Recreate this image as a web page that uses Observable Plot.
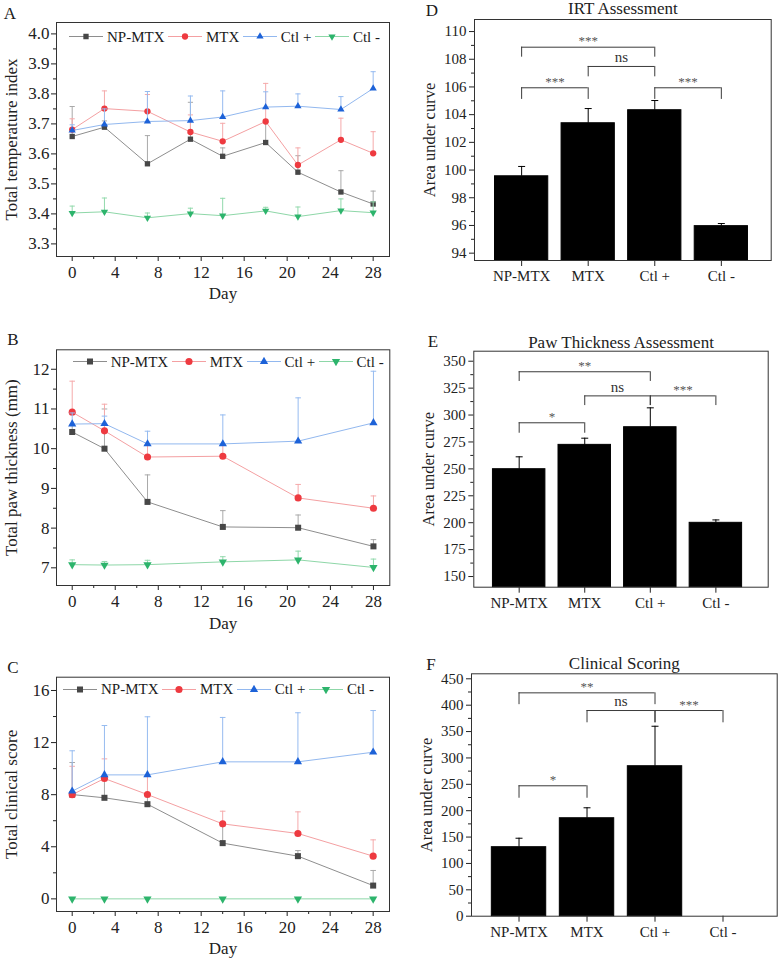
<!DOCTYPE html>
<html>
<head>
<meta charset="utf-8">
<script src="https://cdn.jsdelivr.net/npm/d3@7"></script>
<script src="https://cdn.jsdelivr.net/npm/@observablehq/plot@0.6"></script>
<style>
  html,body{margin:0;padding:0;background:#fff;}
  #fig{position:relative;width:778px;height:959px;overflow:hidden;font-family:"Liberation Serif","Times New Roman",serif;color:#1a1a1a;}
  .panel{position:absolute;}
  .letter{position:absolute;font-size:17px;line-height:1;transform:translate(-50%,-50%);}
  .legend{position:absolute;display:flex;align-items:center;font-size:15px;line-height:1;white-space:nowrap;transform:translateY(-50%);}
  .legend .item{display:flex;align-items:center;margin-right:3.5px;}
  .legend svg{display:block;margin-right:4px;}
</style>
</head>
<body>
<div id="fig"></div>
<script>
// ---------------- data ----------------
const groupNames = ["NP-MTX", "MTX", "Ctl +", "Ctl -"];
const dayTicks = [0, 4, 8, 12, 16, 20, 24, 28];
const dayMinorTicks = [2, 6, 10, 14, 18, 22, 26];

// A: total temperature index (mean and mean+SD)
const tempDays = [0, 3, 7, 11, 14, 18, 21, 25, 28];
const tempNP      = [3.658, 3.689, 3.567, 3.649, 3.592, 3.638, 3.539, 3.473, 3.433];
const tempNPUp    = [3.758, 3.710, 3.661, 3.772, 3.620, 3.705, 3.594, 3.544, 3.476];
const tempMTX     = [3.681, 3.751, 3.742, 3.673, 3.642, 3.708, 3.563, 3.647, 3.602];
const tempMTXUp   = [3.717, 3.810, 3.798, 3.730, 3.702, 3.835, 3.620, 3.719, 3.674];
const tempCtlP    = [3.678, 3.698, 3.708, 3.711, 3.723, 3.756, 3.759, 3.748, 3.818];
const tempCtlPUp  = [3.697, 3.750, 3.808, 3.793, 3.810, 3.807, 3.800, 3.791, 3.874];
const tempCtlN    = [3.403, 3.407, 3.387, 3.401, 3.394, 3.410, 3.391, 3.411, 3.404];
const tempCtlNUp  = [3.426, 3.453, 3.403, 3.419, 3.452, 3.422, 3.423, 3.450, 3.440];
const tempTicks = [3.3, 3.4, 3.5, 3.6, 3.7, 3.8, 3.9, 4.0];

// B: total paw thickness (mm)
const pawDays = [0, 3, 7, 14, 21, 28];
const pawNP      = [10.42, 10.00, 8.66, 8.03, 8.01, 7.54];
const pawNPUp    = [10.60, 11.00, 9.34, 8.44, 8.33, 7.71];
const pawMTX     = [10.92, 10.45, 9.79, 9.81, 8.76, 8.50];
const pawMTXUp   = [11.70, 11.12, 10.10, 10.10, 9.10, 8.81];
const pawCtlP    = [10.62, 10.63, 10.12, 10.12, 10.19, 10.65];
const pawCtlPUp  = [10.90, 10.82, 10.44, 10.85, 11.28, 11.95];
const pawCtlN    = [7.08, 7.07, 7.08, 7.15, 7.20, 7.01];
const pawCtlNUp  = [7.20, 7.16, 7.19, 7.28, 7.42, 7.22];
const pawTicks = [7, 8, 9, 10, 11, 12];

// C: total clinical score
const scoreDays = [0, 3, 7, 14, 21, 28];
const scoreNP      = [8.01, 7.76, 7.27, 4.28, 3.28, 1.02];
const scoreNPUp    = [10.47, 9.20, 8.00, 5.60, 3.71, 2.18];
const scoreMTX     = [8.00, 9.24, 8.01, 5.76, 5.02, 3.28];
const scoreMTXUp   = [10.18, 10.75, 9.40, 6.73, 6.68, 4.53];
const scoreCtlP    = [8.27, 9.52, 9.52, 10.52, 10.52, 11.26];
const scoreCtlPUp  = [11.37, 13.31, 13.98, 13.93, 14.29, 14.46];
const scoreCtlN    = [0, 0, 0, 0, 0, 0];
const scoreCtlNUp  = [0, 0, 0, 0, 0, 0];
const scoreTicks = [0, 4, 8, 12, 16];

// D: IRT assessment (area under curve)
const irtAUC   = [99.55, 103.38, 104.32, 95.95];
const irtAUCUp = [100.26, 104.44, 105.02, 96.14];
const irtTicks = [94, 96, 98, 100, 102, 104, 106, 108, 110];
const irtFrom  = ["NP-MTX", "MTX", "NP-MTX", "Ctl +"];
const irtTo    = ["Ctl +", "Ctl +", "MTX", "Ctl -"];
const irtLevel = [108.87, 107.48, 105.94, 105.94];
const irtFoot  = [108.15, 106.73, 105.10, 105.10];
const irtSig   = ["***", "ns", "***", "***"];

// E: paw thickness assessment
const pawAUC   = [249.7, 272.3, 288.7, 199.9];
const pawAUCUp = [261.2, 278.5, 306.7, 202.6];
const pawAUCTicks = [150, 175, 200, 225, 250, 275, 300, 325, 350];
const pawFrom  = ["NP-MTX", "MTX", "Ctl +", "NP-MTX"];
const pawTo    = ["Ctl +", "Ctl +", "Ctl -", "MTX"];
const pawLevel = [340.2, 317.8, 317.8, 292.8];
const pawFoot  = [331.2, 308.8, 308.8, 283.1];
const pawSig   = ["**", "ns", "***", "*"];

// F: clinical scoring
const clinAUC   = [130.8, 185.7, 284.3, 0];
const clinAUCUp = [147.8, 205.5, 360.1, 0];
const clinTicks = [0, 50, 100, 150, 200, 250, 300, 350, 400, 450];
const clinFrom  = ["NP-MTX", "MTX", "Ctl +", "NP-MTX"];
const clinTo    = ["Ctl +", "Ctl +", "Ctl -", "MTX"];
const clinLevel = [423.4, 389.9, 389.9, 247.2];
const clinFoot  = [401.0, 366.6, 366.6, 223.6];
const clinSig   = ["**", "ns", "***", "*"];

// ---------------- styles ----------------
const FONT = "'Liberation Serif', 'Times New Roman', serif";
const triDown = {
  draw(ctx, size) {
    const s = Math.sqrt(size * 4 / Math.sqrt(3));
    const h = s * Math.sqrt(3) / 2;
    ctx.moveTo(0, 2 * h / 3);
    ctx.lineTo(s / 2, -h / 3);
    ctx.lineTo(-s / 2, -h / 3);
    ctx.closePath();
  }
};
const capSymbol = {
  draw(ctx, size) {
    const r = Math.sqrt(size / Math.PI);
    ctx.moveTo(-r, 0);
    ctx.lineTo(r, 0);
  }
};
const seriesStyle = [
  {name: "NP-MTX", symbol: "square",   d3sym: d3.symbolSquare,   k: 1.0,  fill: "#474747", line: "#8e8e8e", err: "#a9a9a9"},
  {name: "MTX",    symbol: "circle",   d3sym: d3.symbolCircle,   k: 1.05, fill: "#ee3a40", line: "#f4a0a2", err: "#f5aaab"},
  {name: "Ctl +",  symbol: "triangle", d3sym: d3.symbolTriangle, k: 0.9,  fill: "#1d62d8", line: "#92b8ef", err: "#96bbf0"},
  {name: "Ctl -",  symbol: triDown,    d3sym: triDown,           k: 0.9,  fill: "#2db46c", line: "#8ed7a8", err: "#92d9ac"}
];

const fig = document.getElementById("fig");
function place(node, left, top, w) {
  const div = document.createElement("div");
  div.className = "panel";
  div.style.left = left + "px";
  div.style.top = top + "px";
  div.style.width = w + "px";
  div.appendChild(node);
  fig.appendChild(div);
}
function letter(t, x, y) {
  const d = document.createElement("div");
  d.className = "letter";
  d.textContent = t;
  d.style.left = x + "px";
  d.style.top = y + "px";
  fig.appendChild(d);
}
function legend(x, y, r) {
  const box = document.createElement("div");
  box.className = "legend";
  box.style.left = x + "px";
  box.style.top = y + "px";
  for (const s of seriesStyle) {
    const item = document.createElement("div");
    item.className = "item";
    const svg = d3.create("svg").attr("width", 34).attr("height", 12);
    svg.append("line").attr("x1", 0).attr("x2", 34).attr("y1", 6).attr("y2", 6)
      .attr("stroke", s.line).attr("stroke-width", 1);
    const rr = r * s.k;
    svg.append("path").attr("transform", "translate(17,6)")
      .attr("d", d3.symbol(s.d3sym, rr * rr * Math.PI)())
      .attr("fill", s.fill);
    item.appendChild(svg.node());
    const t = document.createElement("span");
    t.textContent = s.name;
    item.appendChild(t);
    box.appendChild(item);
  }
  fig.appendChild(box);
}

function linePanel(cfg) {
  const {days, means, uppers, yDomain, yTicks, yMinor, yFormat, yLabel, width, height, margin, r, capR, dayDy} = cfg;
  const marks = [];
  means.forEach((m, k) => {
    const s = seriesStyle[k];
    const rows = days.map((d, i) => ({day: d, value: m[i], upper: uppers[k][i]}));
    const e = rows.filter(d => d.upper > d.value);
    const rr = r * s.k;
    marks.push(
      Plot.ruleX(e, {x: "day", y1: "value", y2: "upper", stroke: s.err, strokeWidth: 1}),
      Plot.dot(e, {x: "day", y: "upper", symbol: capSymbol, r: capR, stroke: s.err, fill: "none", strokeWidth: 1}),
      Plot.line(rows, {x: "day", y: "value", stroke: s.line, strokeWidth: 1}),
      Plot.dot(rows, {x: "day", y: "value", symbol: s.symbol, r: rr, fill: s.fill, stroke: "none"})
    );
  });
  marks.push(
    Plot.axisX(dayTicks, {tickSize: 5, tickPadding: 4, fontSize: 17, label: null}),
    Plot.axisX(dayMinorTicks, {tickSize: 3, tickFormat: () => "", label: null}),
    Plot.axisY(yTicks, {tickSize: 5, tickPadding: 2, fontSize: 17, label: null, tickFormat: yFormat}),
    Plot.axisY(yMinor, {tickSize: 3, tickFormat: () => "", label: null}),
    Plot.frame({stroke: "#333"}),
    Plot.text([yLabel], {text: d => d, frameAnchor: "left", dx: -45, rotate: -90, fontSize: 17, textAnchor: "middle", lineAnchor: "middle"}),
    Plot.text(["Day"], {text: d => d, frameAnchor: "bottom", dy: dayDy, fontSize: 17, textAnchor: "middle", lineAnchor: "middle"})
  );
  return Plot.plot({
    width, height,
    marginLeft: margin[0], marginRight: margin[1], marginTop: margin[2], marginBottom: margin[3],
    x: {domain: [-1.46, 29.52], label: null},
    y: {domain: yDomain, label: null},
    style: {fontFamily: FONT, fontSize: "16px", color: "#222", background: "transparent"},
    marks
  });
}

function barPanel(cfg) {
  const {means, uppers, from, to, level, foot, sig, xDomain, yDomain, yTicks, yMinor, yLabel, title, titleDy, width, height, margin} = cfg;
  const pos = g => groupNames.indexOf(g) + 1;
  const rows = groupNames.map((g, i) => ({group: g, pos: i + 1, value: means[i], upper: uppers[i]}));
  const br = from.map((f, i) => ({x1: pos(f), x2: pos(to[i]), level: level[i], foot: foot[i], label: sig[i]}));
  const errRows = rows.filter(d => d.upper > d.value);
  const stars = br.filter(d => d.label !== "ns");
  const ns = br.filter(d => d.label === "ns");
  const marks = [
    Plot.rectY(rows.filter(d => d.value > yDomain[0]), {x1: d => d.pos - 0.4, x2: d => d.pos + 0.4, y1: yDomain[0], y2: "value", fill: "#000", stroke: "#000"}),
    Plot.ruleX(errRows, {x: "pos", y1: "value", y2: "upper", stroke: "#000", strokeWidth: 1}),
    Plot.dot(errRows, {x: "pos", y: "upper", symbol: capSymbol, r: 3.5, stroke: "#000", fill: "none", strokeWidth: 1}),
    Plot.ruleY(br, {y: "level", x1: "x1", x2: "x2", stroke: "#3a3a3a", strokeWidth: 1}),
    Plot.ruleX(br, {x: "x1", y1: "foot", y2: "level", stroke: "#3a3a3a", strokeWidth: 1}),
    Plot.ruleX(br, {x: "x2", y1: "foot", y2: "level", stroke: "#3a3a3a", strokeWidth: 1}),
    Plot.text(stars, {x: d => (d.x1 + d.x2) / 2, y: "level", text: "label", dy: -6, fontSize: 13, fill: "#555"}),
    Plot.text(ns, {x: d => (d.x1 + d.x2) / 2, y: "level", text: "label", dy: -9, fontSize: 15, fill: "#333"}),
    Plot.axisX([1, 2, 3, 4], {tickSize: 6, tickPadding: 4, fontSize: 15, label: null, tickFormat: i => groupNames[i - 1]}),
    Plot.axisY(yTicks, {tickSize: 5, tickPadding: 3, fontSize: 15, label: null}),
    Plot.axisY(yMinor, {tickSize: 3, tickFormat: () => "", label: null}),
    Plot.frame({stroke: "#333"}),
    Plot.text([yLabel], {text: d => d, frameAnchor: "left", dx: -45, rotate: -90, fontSize: 16.5, textAnchor: "middle", lineAnchor: "middle"}),
    Plot.text([title], {text: d => d, frameAnchor: "top", dy: titleDy, fontSize: 17, textAnchor: "middle", lineAnchor: "middle"})
  ];
  return Plot.plot({
    width, height,
    marginLeft: margin[0], marginRight: margin[1], marginTop: margin[2], marginBottom: margin[3],
    x: {domain: xDomain, label: null},
    y: {domain: yDomain, label: null},
    style: {fontFamily: FONT, fontSize: "15px", color: "#222", background: "transparent"},
    marks
  });
}

const halfSteps = (ticks, lo, hi) => {
  const step = ticks[1] - ticks[0];
  const out = [];
  for (let v = ticks[0] - step / 2; v <= hi; v += step) if (v >= lo) out.push(+v.toFixed(6));
  return out;
};

// ---------- A ----------
place(linePanel({
  days: tempDays,
  means: [tempNP, tempMTX, tempCtlP, tempCtlN],
  uppers: [tempNPUp, tempMTXUp, tempCtlPUp, tempCtlNUp],
  yDomain: [3.258, 4.038], yTicks: tempTicks, yMinor: halfSteps(tempTicks, 3.258, 4.038),
  yFormat: d3.format(".1f"), yLabel: "Total temperature index",
  width: 400, height: 305, margin: [56, 11, 22, 49], r: 3.0, capR: 2.6, dayDy: 37
}), 0, 0, 400);

// ---------- B ----------
place(linePanel({
  days: pawDays,
  means: [pawNP, pawMTX, pawCtlP, pawCtlN],
  uppers: [pawNPUp, pawMTXUp, pawCtlPUp, pawCtlNUp],
  yDomain: [6.555, 12.49], yTicks: pawTicks, yMinor: halfSteps(pawTicks, 6.555, 12.49),
  yFormat: d3.format("d"), yLabel: "Total paw thickness (mm)",
  width: 400, height: 332, margin: [56, 10.7, 39.3, 57], r: 3.4, capR: 2.8, dayDy: 38
}), 0, 310, 400);

// ---------- C ----------
place(linePanel({
  days: scoreDays,
  means: [scoreNP, scoreMTX, scoreCtlP, scoreCtlN],
  uppers: [scoreNPUp, scoreMTXUp, scoreCtlPUp, scoreCtlNUp],
  yDomain: [-0.97, 17.02], yTicks: scoreTicks, yMinor: halfSteps(scoreTicks, -0.97, 17.02),
  yFormat: d3.format("d"), yLabel: "Total clinical score",
  width: 400, height: 329, margin: [56, 11, 46.7, 48], r: 3.4, capR: 2.8, dayDy: 37
}), 0, 630, 400);

// ---------- D ----------
place(barPanel({
  means: irtAUC, uppers: irtAUCUp, from: irtFrom, to: irtTo, level: irtLevel, foot: irtFoot, sig: irtSig,
  xDomain: [0.292, 4.749], yDomain: [93.47, 110.87], yTicks: irtTicks, yMinor: halfSteps(irtTicks, 93.47, 110.87),
  yLabel: "Area under curve", title: "IRT Assessment", titleDy: -11,
  width: 378, height: 305, margin: [74, 7.3, 19, 45]
}), 400, 0, 378);

// ---------- E ----------
place(barPanel({
  means: pawAUC, uppers: pawAUCUp, from: pawFrom, to: pawTo, level: pawLevel, foot: pawFoot, sig: pawSig,
  xDomain: [0.308, 4.798], yDomain: [140.1, 359.3], yTicks: pawAUCTicks, yMinor: halfSteps(pawAUCTicks, 140.1, 359.3),
  yLabel: "Area under curve", title: "Paw Thickness Assessment", titleDy: -9,
  width: 378, height: 320, margin: [73.3, 10.3, 40.7, 43.3]
}), 400, 310, 378);

// ---------- F ----------
place(barPanel({
  means: clinAUC, uppers: clinAUCUp, from: clinFrom, to: clinTo, level: clinLevel, foot: clinFoot, sig: clinSig,
  xDomain: [0.301, 4.797], yDomain: [0, 459.5], yTicks: clinTicks, yMinor: halfSteps(clinTicks, 0, 459.5),
  yLabel: "Area under curve", title: "Clinical Scoring", titleDy: -10,
  width: 378, height: 329, margin: [71, 1.3, 43.3, 43.3]
}), 400, 630, 378);

// letters and legends
letter("A", 10, 13); letter("B", 13, 339); letter("C", 13, 667);
letter("D", 432, 10); letter("E", 433, 341); letter("F", 431, 664);
legend(69, 36.7, 3.0);
legend(72.7, 361.7, 3.4);
legend(63, 689.3, 3.4);
</script>
</body>
</html>
